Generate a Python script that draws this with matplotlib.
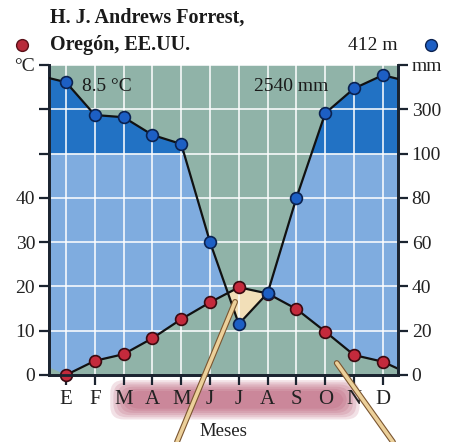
import numpy as np
import matplotlib
matplotlib.use("Agg")
import matplotlib.pyplot as plt
import matplotlib.patheffects as pe
from matplotlib.lines import Line2D
from matplotlib.patches import FancyBboxPatch

plt.rcParams['font.family'] = ['Liberation Serif', 'DejaVu Serif']

months = ['E', 'F', 'M', 'A', 'M', 'J', 'J', 'A', 'S', 'O', 'N', 'D']
temp_c = [0.0, 3.2, 4.7, 8.3, 12.6, 16.4, 19.8, 18.4, 14.9, 9.8, 4.5, 3.0]
precip_mm = [422, 274, 264, 184, 143, 60, 23, 37, 80, 282, 394, 454]
left_ticks = [0, 10, 20, 30, 40, 50, 60, 70]
left_labels = ['0', '10', '20', '30', '40', '', '', '°C']
right_ticks = [0, 20, 40, 60, 80, 100, 300, 500]
right_labels = ['0', '20', '40', '60', '80', '100', '300', 'mm']

c_green = '#90b3a8'
c_light = '#7facdf'
c_dark = '#2272c4'
c_dry = '#f2dfb8'
c_axis = '#1b2430'


def mm_to_u(p):
    p = np.asarray(p, dtype=float)
    return np.where(p <= 100, p / 2, 50 + (p - 100) / 20)


def u_to_mm(u):
    u = np.asarray(u, dtype=float)
    return np.where(u <= 50, u * 2, 100 + (u - 50) * 20)


x = np.arange(12)
xmin, xmax = -0.59, 11.52
# wrap december/january to reach the frame edges
wx = np.r_[-1, x, 12]
t_wrap = np.r_[temp_c[-1], temp_c, temp_c[0]]
p_wrap = np.r_[precip_mm[-1], precip_mm, precip_mm[0]]
xe = np.r_[xmin, x, xmax]
te = np.interp(xe, wx, t_wrap)
pe_mm = np.interp(xe, wx, p_wrap)
pu = mm_to_u(pe_mm)

# dense sampling in display units for fills
xf = np.linspace(xmin, xmax, 2000)
tf = np.interp(xf, xe, te)
pf = np.interp(xf, xe, pu)

fig = plt.figure(figsize=(4.5, 4.42), dpi=100)
ax = fig.add_axes([0.109, 0.1516, 0.775, 0.7014])
ax.set_facecolor(c_green)
ax.set_xlim(xmin, xmax)
ax.set_ylim(0, 70)

ax.fill_between(xf, tf, np.minimum(pf, 50), where=pf > tf, color=c_light, lw=0)
ax.fill_between(xf, 50, pf, where=pf > 50, color=c_dark, lw=0)
ax.fill_between(xf, pf, tf, where=tf > pf, color=c_dry, lw=0)

ax.set_xticks(x)
ax.set_xticklabels(months, fontsize=15, color='#222222')
ax.set_yticks(left_ticks)
ax.set_yticklabels(left_labels, fontsize=14, color='#222222')
ax.grid(True, color='white', lw=1.3, alpha=0.85)
ax.tick_params(axis='both', length=7, width=1.6, color=c_axis, pad=3)
ax.tick_params(axis='x', pad=4)

ax.plot(np.r_[x, xmax], np.r_[temp_c, te[-1]], color='#111111', lw=1.6, zorder=3)
ax.plot(x, temp_c, 'o', ms=8.5, mfc='#c42a3c', mec='#3a0a10', mew=1.2, zorder=4,
        clip_on=False)

for s in ['left', 'right', 'bottom']:
    ax.spines[s].set_color(c_axis)
    ax.spines[s].set_linewidth(2)
ax.spines['top'].set_visible(False)

ax2 = ax.twinx()
ax2.set_yscale('function', functions=(mm_to_u, u_to_mm))
ax2.set_ylim(0, 500)
ax2.set_yticks(right_ticks)
ax2.set_yticklabels(right_labels, fontsize=14, color='#222222')
ax2.tick_params(axis='y', length=7, width=1.6, color=c_axis, pad=3)
ax2.yaxis.set_minor_locator(matplotlib.ticker.NullLocator())
for s in ['left', 'right', 'bottom']:
    ax2.spines[s].set_color(c_axis)
    ax2.spines[s].set_linewidth(2)
ax2.spines['top'].set_visible(False)

ax2.plot(xe, pe_mm, color='#111111', lw=1.6, zorder=3)
ax2.plot(x, precip_mm, 'o', ms=8.5, mfc='#1d5fc4', mec='#0b2250', mew=1.2, zorder=4)

ax.text(0.55, 65.2, '8.5 °C', fontsize=14, ha='left', va='center', color='#1a1a1a')
ax.text(9.1, 65.2, '2540 mm', fontsize=14, ha='right', va='center', color='#1a1a1a')
ax.set_xlabel('Meses', fontsize=13.5, labelpad=10, color='#222222')

# pink highlight behind months
for i in range(6):
    d = 0.007 * (5 - i)
    fig.add_artist(FancyBboxPatch((0.251 + d, 0.057 + d * 0.7), 0.542 - 2 * d,
                                  0.077 - 1.4 * d,
                                  boxstyle='round,pad=0.006,rounding_size=0.03',
                                  transform=fig.transFigure, color='#b24a66',
                                  alpha=0.16, lw=0, zorder=0))

# pointer lines
for start, end in [((5.87, 16.5), (177 / 450, 0.0)), ((9.4, 2.7), (393 / 450, 0.0))]:
    ax2.annotate('', xy=start, xycoords=ax.transData, xytext=end,
                 textcoords='figure fraction', annotation_clip=False,
                 arrowprops=dict(arrowstyle='-', color='#ecd09a', lw=2.6,
                                 shrinkA=0, shrinkB=0,
                                 path_effects=[pe.Stroke(linewidth=4.2, foreground='#7a5530'),
                                               pe.Normal()]))

fig.text(0.111, 0.96, 'H. J. Andrews Forrest,', fontsize=14.5, fontweight='bold',
         ha='left', va='center', color='#1a1a1a')
fig.text(0.111, 0.898, 'Oregón, EE.UU.', fontsize=14.5, fontweight='bold',
         ha='left', va='center', color='#1a1a1a')
fig.text(0.884, 0.898, '412 m', fontsize=14, ha='right', va='center', color='#1a1a1a')
fig.add_artist(Line2D([22 / 450], [1 - 45 / 442], marker='o', ms=8.5, mfc='#b82a3a',
                      mec='#5a1018', transform=fig.transFigure))
fig.add_artist(Line2D([431 / 450], [1 - 45 / 442], marker='o', ms=8.5, mfc='#1d5fc4',
                      mec='#0b2250', transform=fig.transFigure))

fig.savefig('out.png', dpi=100)
